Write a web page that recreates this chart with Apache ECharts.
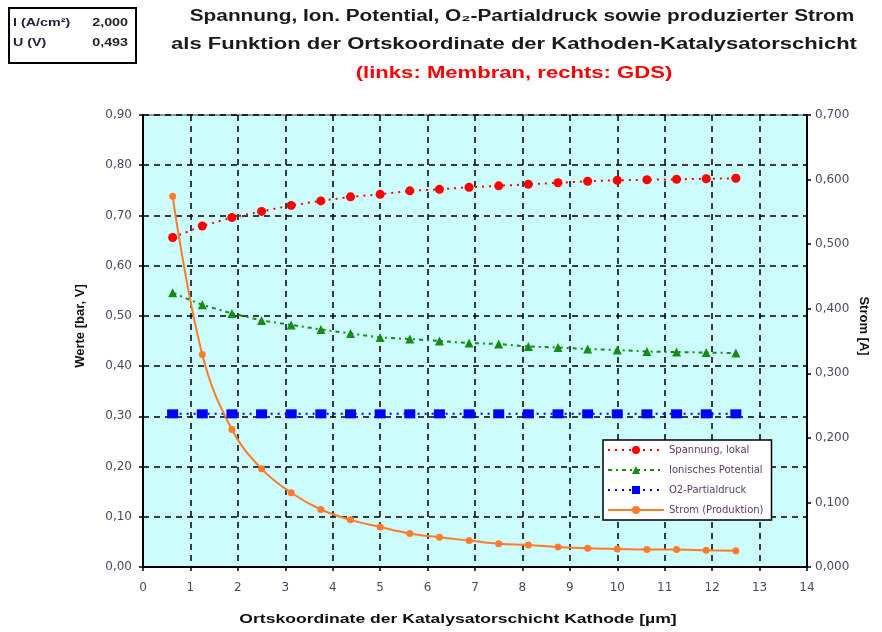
<!DOCTYPE html>
<html><head><meta charset="utf-8">
<script src="https://cdn.jsdelivr.net/npm/echarts@6/dist/echarts.min.js"></script>
<style>html,body{margin:0;padding:0;background:#fff}#c{width:882px;height:632px}</style>
</head><body><div id="c"></div>
<script>
const xPos = [0.625,1.25,1.875,2.5,3.125,3.75,4.375,5.0,5.625,6.25,6.875,7.5,8.125,8.75,9.375,10.0,10.625,11.25,11.875,12.5];
const spannung = [0.656,0.679,0.696,0.708,0.720,0.729,0.737,0.742,0.749,0.752,0.756,0.759,0.762,0.765,0.768,0.770,0.771,0.772,0.773,0.774];
const ionPot = [0.546,0.522,0.505,0.491,0.482,0.473,0.465,0.457,0.454,0.450,0.446,0.444,0.439,0.437,0.434,0.432,0.429,0.428,0.427,0.426];
const o2 = [0.305,0.305,0.305,0.305,0.305,0.305,0.305,0.305,0.305,0.305,0.305,0.305,0.305,0.305,0.305,0.305,0.305,0.305,0.305,0.305];
const strom = [0.574,0.329,0.213,0.152,0.115,0.089,0.073,0.062,0.052,0.046,0.041,0.036,0.034,0.031,0.029,0.028,0.027,0.027,0.026,0.025];
const seriesNames = ['Spannung, lokal','Ionisches Potential','O2-Partialdruck','Strom (Produktion)'];
const titleLines = ['Spannung, Ion. Potential, O\u2082-Partialdruck sowie produzierter Strom','als Funktion der Ortskoordinate der Kathoden-Katalysatorschicht','(links: Membran, rechts: GDS)'];
const xName = 'Ortskoordinate der Katalysatorschicht Kathode [\u00b5m]';
const yLeftName = 'Werte [bar, V]';
const yRightName = 'Strom [A]';
const infoLabels = ['I (A/cm\u00b2)','U (V)'];
const infoValues = ['2,000','0,493'];

const pair = (xs, ys) => xs.map((x,i)=>[x, ys[i]]);
const fmt = d => v => v.toFixed(d).replace('.', ',');
const font = 'Liberation Sans, Arial, sans-serif';
const tickFont = 'DejaVu Sans, sans-serif';
const tickColor = '#4a4a66';

const chart = echarts.init(document.getElementById('c'));
chart.setOption({
  animation:false,
  textStyle:{fontFamily:font},
  grid:{left:143,right:75,top:115,bottom:65,show:true,backgroundColor:'#ccfcfc',borderColor:'#333',borderWidth:1},
  xAxis:{type:'value',min:0,max:14,interval:1,
    axisLine:{lineStyle:{color:'#000',width:2}},
    axisTick:{inside:false,length:4,lineStyle:{color:'#000',width:1.5}},
    axisLabel:{color:tickColor,fontSize:12,fontFamily:tickFont,margin:15},
    splitLine:{show:true,lineStyle:{color:'#000',type:[6,5],width:1.5}}},
  yAxis:[{type:'value',min:0,max:0.9,interval:0.1,position:'left',
    axisLine:{show:true,lineStyle:{color:'#000',width:2}},
    axisTick:{show:true,length:4,lineStyle:{color:'#000',width:1.5}},
    axisLabel:{formatter:fmt(2),color:tickColor,fontSize:12,fontFamily:tickFont,margin:11},
    splitLine:{show:true,lineStyle:{color:'#000',type:[6,5],width:1.5}}},
   {type:'value',min:0,max:0.7,interval:0.1,position:'right',
    axisLine:{show:true,lineStyle:{color:'#000',width:2}},
    axisTick:{show:true,length:4,lineStyle:{color:'#000',width:1.5}},
    axisLabel:{formatter:fmt(3),color:tickColor,fontSize:12,fontFamily:tickFont,margin:8},
    splitLine:{show:false}}],
  legend:{orient:'vertical',left:603,top:440,
    backgroundColor:'#fff',borderColor:'#000',borderWidth:1.5,padding:[5,8,5,4],
    itemWidth:56,itemHeight:10,itemGap:10,
    textStyle:{fontSize:10,fontFamily:tickFont,color:'#5a3a6a'},
    data:seriesNames},
  series:[
    {name:seriesNames[0],type:'line',yAxisIndex:0,data:pair(xPos,spannung),
     symbol:'circle',symbolSize:9,itemStyle:{color:'#ff0000'},
     lineStyle:{color:'#ff0000',width:2,type:[2,5]}},
    {name:seriesNames[1],type:'line',yAxisIndex:0,data:pair(xPos,ionPot),
     symbol:'triangle',symbolSize:9,itemStyle:{color:'#168c16'},
     lineStyle:{color:'#168c16',width:2,type:[4,4,2,4]}},
    {name:seriesNames[2],type:'line',yAxisIndex:0,data:pair(xPos,o2),
     symbol:'rect',symbolSize:[11,9],itemStyle:{color:'#0000ff'},
     lineStyle:{color:'#0000ff',width:2,type:[2,5]}},
    {name:seriesNames[3],type:'line',yAxisIndex:1,data:pair(xPos,strom),smooth:0.4,
     symbol:'circle',symbolSize:7,itemStyle:{color:'#ff7a2a'},
     lineStyle:{color:'#ff7a2a',width:2}}
  ],
  graphic:[
    {type:'rect',shape:{x:9,y:8,width:127,height:55},style:{fill:'#fff',stroke:'#000',lineWidth:2}},
    {type:'text',x:13,y:23,scaleX:1.3,style:{text:infoLabels[0],font:'bold 11px '+font,fill:'#222244',verticalAlign:'middle'}},
    {type:'text',x:13,y:43,scaleX:1.3,style:{text:infoLabels[1],font:'bold 11px '+font,fill:'#222244',verticalAlign:'middle'}},
    {type:'text',x:128,y:23,scaleX:1.3,style:{text:infoValues[0],font:'bold 11px '+font,fill:'#222',align:'right',verticalAlign:'middle'}},
    {type:'text',x:128,y:43,scaleX:1.3,style:{text:infoValues[1],font:'bold 11px '+font,fill:'#222',align:'right',verticalAlign:'middle'}},
    {type:'text',x:522,y:17,scaleX:1.3,style:{text:titleLines[0],font:'bold 16px '+font,fill:'#1a1a1a',align:'center',verticalAlign:'middle'}},
    {type:'text',x:514,y:45,scaleX:1.375,style:{text:titleLines[1],font:'bold 16px '+font,fill:'#1a1a1a',align:'center',verticalAlign:'middle'}},
    {type:'text',x:514,y:74,scaleX:1.38,style:{text:titleLines[2],font:'bold 16px '+font,fill:'#ff0000',align:'center',verticalAlign:'middle'}},
    {type:'text',x:458,y:619,scaleX:1.35,style:{text:xName,font:'bold 13px '+font,fill:'#111',align:'center',verticalAlign:'middle'}},
    {type:'text',x:80,y:326,rotation:Math.PI/2,style:{text:yLeftName,font:'bold 13px '+font,fill:'#111',align:'center',verticalAlign:'middle'}},
    {type:'text',x:864,y:326,rotation:-Math.PI/2,style:{text:yRightName,font:'bold 13px '+font,fill:'#111',align:'center',verticalAlign:'middle'}}
  ]
});
</script></body></html>
